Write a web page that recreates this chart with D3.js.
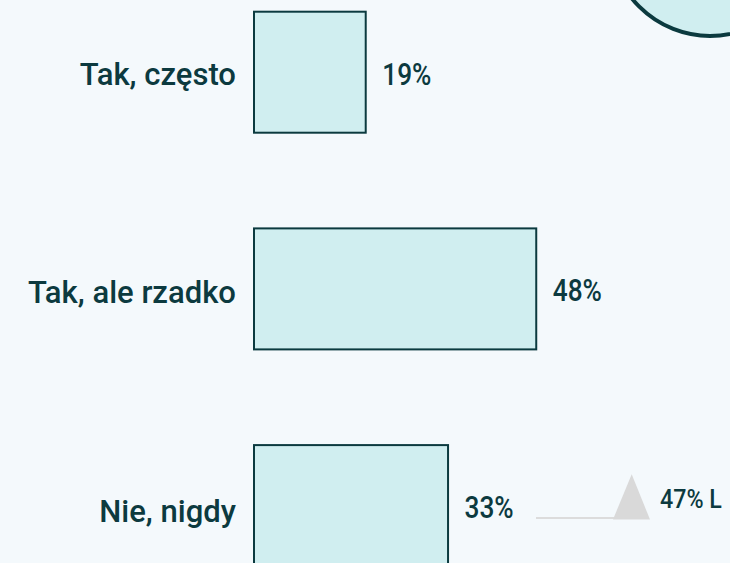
<!DOCTYPE html>
<html>
<head>
<meta charset="utf-8">
<script src="https://cdn.jsdelivr.net/npm/d3@7"></script>
<style>
  html, body { margin: 0; padding: 0; background: #f4f9fc; overflow: hidden; }
  svg { display: block; }
  text { font-family: Roboto, "Open Sans", sans-serif; fill: #0c3a3f; }
</style>
</head>
<body>
<svg id="chart" width="730" height="563"></svg>
<script>
// Survey answers and their shares (%)
const categories = ["Tak, często", "Tak, ale rzadko", "Nie, nigdy"];
const values = [19, 48, 33];
const valueLabels = ["19%", "48%", "33%"];

// Side note: comparison figure
const noteValue = 47;
const noteLabel = "47% L";

const W = 730, H = 563;
const svg = d3.select("#chart");

svg.append("rect").attr("width", W).attr("height", H).attr("fill", "#f4f9fc");

// decorative circle in the top-right corner
svg.append("circle")
  .attr("cx", 710).attr("cy", -64).attr("r", 100)
  .attr("fill", "#d0eef0").attr("stroke", "#0b3a3f").attr("stroke-width", 4);

const x0 = 254;
const x = d3.scaleLinear().domain([0, 100]).range([0, 588]);
const y = d3.scaleBand().domain(categories)
  .range([11.7, 566.1]).paddingInner(0.4416).paddingOuter(0);

// squeeze text horizontally to mimic a condensed face
function condense(sel, k) {
  sel.each(function () {
    const w = this.getComputedTextLength();
    d3.select(this).attr("textLength", w * k).attr("lengthAdjust", "spacingAndGlyphs");
  });
}

const rows = svg.append("g").selectAll("g").data(categories).join("g");

rows.append("rect")
  .attr("x", x0)
  .attr("y", d => y(d))
  .attr("width", (d, i) => x(values[i]))
  .attr("height", y.bandwidth())
  .attr("fill", "#d0eef0")
  .attr("stroke", "#0b3a3f")
  .attr("stroke-width", 2);

rows.append("text")
  .attr("class", "cat")
  .attr("x", x0 - 18)
  .attr("y", (d, i) => y(d) + y.bandwidth() / 2 + 13 + i * 1.5)
  .attr("text-anchor", "end")
  .attr("font-size", 32)
  .attr("font-weight", 500)
  .text(d => d)
  .call(condense, 0.97);

rows.append("text")
  .attr("class", "val")
  .attr("x", (d, i) => x0 + x(values[i]) + 16.5)
  .attr("y", d => y(d) + y.bandwidth() / 2 + 12.5)
  .attr("font-size", 32)
  .attr("font-weight", 500)
  .text((d, i) => valueLabels[i])
  .call(condense, 0.82);

// note marker: baseline rule, triangle and label
const nb = 519;
svg.append("line")
  .attr("x1", 536).attr("x2", 614).attr("y1", nb - 1).attr("y2", nb - 1)
  .attr("stroke", "#dcdcdc").attr("stroke-width", 2);
svg.append("path")
  .attr("d", d3.line()([[613, nb + 0.5], [631.7, 474.3], [650, nb + 0.5]]) + "Z")
  .attr("fill", "#d9d9d9");
svg.append("text")
  .attr("x", 660).attr("y", 508.3)
  .attr("font-size", 25)
  .attr("font-weight", 500)
  .text(noteLabel)
  .call(condense, 0.93);
</script>
</body>
</html>
